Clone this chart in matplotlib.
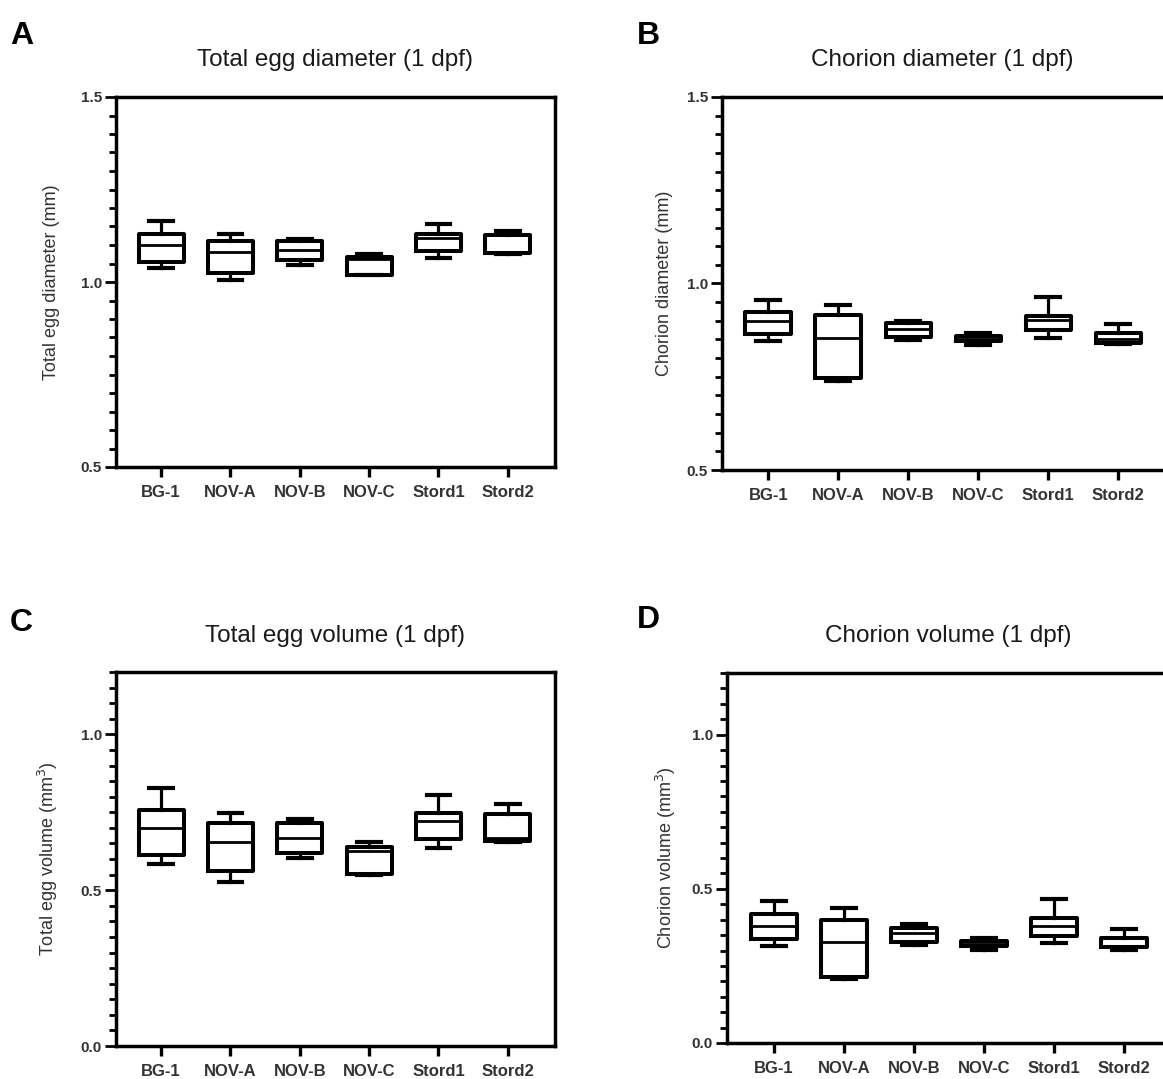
import matplotlib
matplotlib.use("Agg")
import matplotlib.pyplot as plt
from matplotlib.ticker import MultipleLocator

plt.rcParams['font.family'] = ['Liberation Sans', 'DejaVu Sans']

groups = ["BG-1", "NOV-A", "NOV-B", "NOV-C", "Stord1", "Stord2"]

# Panel A: Total egg diameter (mm)
egg_diam_min = [1.037, 1.005, 1.047, 1.018, 1.064, 1.077]
egg_diam_q1 = [1.053, 1.025, 1.059, 1.019, 1.085, 1.079]
egg_diam_med = [1.100, 1.082, 1.086, 1.062, 1.118, 1.082]
egg_diam_q3 = [1.131, 1.110, 1.110, 1.067, 1.131, 1.126]
egg_diam_max = [1.166, 1.130, 1.117, 1.076, 1.156, 1.139]

# Panel B: Chorion diameter (mm)
cho_diam_min = [0.846, 0.739, 0.848, 0.835, 0.855, 0.837]
cho_diam_q1 = [0.864, 0.747, 0.857, 0.846, 0.874, 0.841]
cho_diam_med = [0.899, 0.855, 0.878, 0.852, 0.901, 0.850]
cho_diam_q3 = [0.924, 0.915, 0.893, 0.859, 0.914, 0.867]
cho_diam_max = [0.955, 0.943, 0.899, 0.868, 0.963, 0.892]

# Panel C: Total egg volume (mm3)
egg_vol_min = [0.583, 0.527, 0.602, 0.550, 0.634, 0.655]
egg_vol_q1 = [0.612, 0.562, 0.618, 0.551, 0.663, 0.657]
egg_vol_med = [0.700, 0.655, 0.668, 0.625, 0.721, 0.666]
egg_vol_q3 = [0.756, 0.714, 0.714, 0.637, 0.749, 0.744]
egg_vol_max = [0.829, 0.748, 0.729, 0.655, 0.806, 0.775]

# Panel D: Chorion volume (mm3)
cho_vol_min = [0.315, 0.207, 0.318, 0.302, 0.324, 0.302]
cho_vol_q1 = [0.337, 0.215, 0.329, 0.315, 0.347, 0.311]
cho_vol_med = [0.380, 0.329, 0.356, 0.322, 0.380, 0.315]
cho_vol_q3 = [0.419, 0.399, 0.373, 0.331, 0.405, 0.340]
cho_vol_max = [0.461, 0.439, 0.385, 0.342, 0.467, 0.371]

W, H = 1163, 1079
fig = plt.figure(figsize=(W / 100, H / 100), dpi=100)


def px_axes(left, right, top, bottom):
    return fig.add_axes([left / W, 1 - bottom / H, (right - left) / W, (bottom - top) / H])


def make_stats(mn, q1, med, q3, mx):
    return [dict(whislo=a, q1=b, med=c, q3=d, whishi=e, fliers=[])
            for a, b, c, d, e in zip(mn, q1, med, q3, mx)]


TXT = '#333333'


def draw(ax, stats, ylim, yticks, ylabel, xlim, label_x):
    pos = list(range(len(groups)))
    ax.bxp(stats, positions=pos, widths=0.65, capwidths=0.34, showfliers=False,
           boxprops=dict(color='black', linewidth=2.9),
           medianprops=dict(color='black', linewidth=2.0),
           whiskerprops=dict(color='black', linewidth=2.3),
           capprops=dict(color='black', linewidth=3.0))
    ax.set_xlim(*xlim)
    ax.set_ylim(*ylim)
    ax.set_xticks(pos)
    ax.set_xticklabels(groups, fontsize=12, color=TXT, fontweight='bold')
    ax.set_yticks(yticks)
    ax.set_yticklabels([f"{t:.1f}" for t in yticks], fontsize=11, color=TXT,
                       fontweight='bold')
    ax.yaxis.set_minor_locator(MultipleLocator(0.05))
    for sp in ax.spines.values():
        sp.set_linewidth(2.5)
    ax.tick_params(axis='y', which='major', length=8, width=2.0, direction='out', pad=2)
    ax.tick_params(axis='y', which='minor', length=5, width=2.0, direction='out')
    ax.tick_params(axis='x', which='major', length=7, width=2.4, direction='out', pad=6)
    ax.set_ylabel(ylabel, fontsize=13, color=TXT)
    ax.yaxis.set_label_coords(label_x, 0.5)


# Panel A
axA = px_axes(116, 555, 97, 467)
draw(axA, make_stats(egg_diam_min, egg_diam_q1, egg_diam_med, egg_diam_q3, egg_diam_max),
     (0.5, 1.5), [0.5, 1.0, 1.5], "Total egg diameter (mm)", (-0.65, 5.68), -0.128)

# Panel B
axB = px_axes(722, 1166, 97, 470)
draw(axB, make_stats(cho_diam_min, cho_diam_q1, cho_diam_med, cho_diam_q3, cho_diam_max),
     (0.5, 1.5), [0.5, 1.0, 1.5], "Chorion diameter (mm)", (-0.66, 5.68), -0.11)

# Panel C
axC = px_axes(116, 555, 672, 1046)
draw(axC, make_stats(egg_vol_min, egg_vol_q1, egg_vol_med, egg_vol_q3, egg_vol_max),
     (0.0, 1.2), [0.0, 0.5, 1.0], "Total egg volume (mm$^3$)", (-0.65, 5.68), -0.128)

# Panel D
axD = px_axes(727, 1170, 673, 1043)
draw(axD, make_stats(cho_vol_min, cho_vol_q1, cho_vol_med, cho_vol_q3, cho_vol_max),
     (0.0, 1.2), [0.0, 0.5, 1.0], "Chorion volume (mm$^3$)", (-0.67, 5.66), -0.11)

# Titles
titles = [("Total egg diameter (1 dpf)", 335, 60), ("Chorion diameter (1 dpf)", 942, 60),
          ("Total egg volume (1 dpf)", 335, 636), ("Chorion volume (1 dpf)", 948, 636)]
for t, x, y in titles:
    fig.text(x / W, 1 - y / H, t, ha='center', va='center', fontsize=17.5, color='#1a1a1a')

letters = [("A", 10, 36), ("B", 637, 36), ("C", 10, 623), ("D", 637, 620)]
for t, x, y in letters:
    fig.text(x / W, 1 - y / H, t, ha='left', va='center', fontsize=23, fontweight='bold',
             color='black')

fig.savefig("out.png", dpi=100)
